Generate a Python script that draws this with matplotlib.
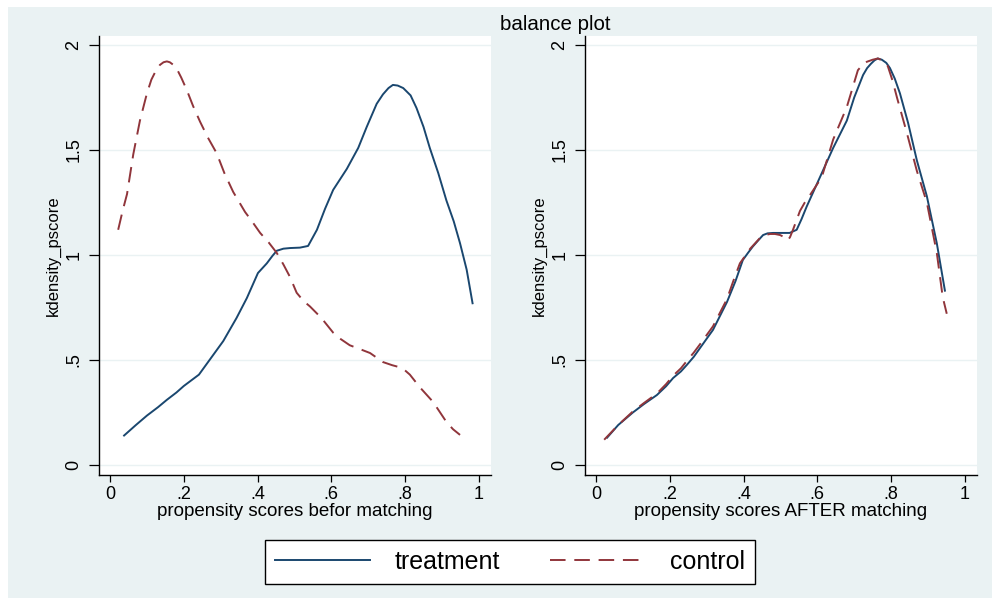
import matplotlib
matplotlib.use("Agg")
import matplotlib.pyplot as plt
from matplotlib.patches import Rectangle

plt.rcParams["font.family"] = ["Liberation Sans", "DejaVu Sans"]

# ── data ──────────────────────────────────────────────────────────────────────
treat_before_x = [0.038, 0.07, 0.10, 0.13, 0.154, 0.18, 0.20, 0.222, 0.241, 0.274, 0.307,
                  0.343, 0.371, 0.401, 0.425, 0.44, 0.452, 0.47, 0.488, 0.515, 0.537,
                  0.561, 0.583, 0.605, 0.642, 0.673, 0.696, 0.723, 0.74, 0.755, 0.767,
                  0.78, 0.795, 0.815, 0.831, 0.85, 0.867, 0.89, 0.912, 0.932, 0.949, 0.967,
                  0.983]
treat_before_y = [0.14, 0.19, 0.235, 0.275, 0.31, 0.345, 0.376, 0.405, 0.43, 0.51, 0.59,
                  0.70, 0.795, 0.914, 0.96, 0.995, 1.02, 1.03, 1.033, 1.035, 1.043,
                  1.12, 1.22, 1.31, 1.41, 1.51, 1.61, 1.72, 1.765, 1.795, 1.81,
                  1.807, 1.795, 1.76, 1.70, 1.61, 1.51, 1.39, 1.26, 1.16, 1.056, 0.93,
                  0.77]

ctrl_before_x = [0.022, 0.034, 0.046, 0.063, 0.081, 0.10, 0.112, 0.122, 0.135, 0.145, 0.154,
                 0.162, 0.172, 0.18, 0.193, 0.208, 0.225, 0.244, 0.265, 0.289, 0.31, 0.334,
                 0.366, 0.385, 0.407, 0.43, 0.452, 0.47, 0.488, 0.506, 0.525, 0.542, 0.573,
                 0.605, 0.625, 0.65, 0.68, 0.705, 0.74, 0.765, 0.786, 0.8, 0.813, 0.84,
                 0.876, 0.912, 0.93, 0.949]
ctrl_before_y = [1.12, 1.21, 1.29, 1.48, 1.64, 1.77, 1.835, 1.87, 1.905, 1.918, 1.922,
                 1.918, 1.905, 1.89, 1.845, 1.786, 1.71, 1.635, 1.56, 1.485, 1.39, 1.30,
                 1.205, 1.16, 1.105, 1.06, 1.01, 0.955, 0.895, 0.82, 0.78, 0.755, 0.70,
                 0.63, 0.60, 0.57, 0.55, 0.533, 0.49, 0.475, 0.465, 0.45, 0.43, 0.37,
                 0.30, 0.205, 0.17, 0.143]

treat_after_x = [0.03, 0.06, 0.1, 0.13, 0.165, 0.19, 0.209, 0.23, 0.246, 0.265, 0.282,
                 0.317, 0.355, 0.378, 0.398, 0.412, 0.425, 0.44, 0.453, 0.465, 0.48, 0.525,
                 0.544, 0.557, 0.571, 0.607, 0.643, 0.68, 0.70, 0.724, 0.735, 0.745,
                 0.755, 0.764, 0.775, 0.787, 0.797, 0.81, 0.824, 0.846, 0.87, 0.897, 0.924,
                 0.946]
treat_after_y = [0.13, 0.19, 0.25, 0.29, 0.333, 0.375, 0.414, 0.445, 0.476, 0.515, 0.557,
                 0.643, 0.776, 0.875, 0.976, 1.01, 1.04, 1.07, 1.095, 1.103, 1.105, 1.105,
                 1.12, 1.17, 1.23, 1.37, 1.51, 1.64, 1.75, 1.857, 1.89, 1.91,
                 1.927, 1.936, 1.93, 1.915, 1.89, 1.84, 1.77, 1.63, 1.45, 1.28, 1.056,
                 0.83]

ctrl_after_x = [0.022, 0.06, 0.1, 0.13, 0.165, 0.19, 0.209, 0.23, 0.246, 0.265, 0.282,
                0.317, 0.355, 0.372, 0.39, 0.418, 0.444, 0.458, 0.472, 0.485, 0.499, 0.51,
                0.52, 0.526, 0.534, 0.553, 0.566, 0.58, 0.612, 0.643, 0.68, 0.71, 0.722,
                0.734, 0.75, 0.764, 0.778, 0.791, 0.804, 0.816, 0.843, 0.87, 0.897, 0.924,
                0.94, 0.951]
ctrl_after_y = [0.12, 0.19, 0.255, 0.295, 0.34, 0.385, 0.425, 0.46, 0.495, 0.535, 0.575,
                0.66, 0.79, 0.875, 0.96, 1.03, 1.08, 1.095, 1.10, 1.1, 1.095, 1.085,
                1.07, 1.085, 1.12, 1.21, 1.25, 1.285, 1.37, 1.55, 1.705, 1.88, 1.905,
                1.92, 1.93, 1.936, 1.925, 1.90, 1.83, 1.75, 1.58, 1.40, 1.25, 1.01,
                0.80, 0.72]

x_ticks = [0, 0.2, 0.4, 0.6, 0.8, 1]
x_ticklabels = ["0", ".2", ".4", ".6", ".8", "1"]
y_ticks = [0, 0.5, 1, 1.5, 2]
y_ticklabels = ["0", ".5", "1", "1.5", "2"]

NAVY = "#1a476f"
MAROON = "#90353b"
BG = "#eaf2f3"
W, H = 1001, 598

fig = plt.figure(figsize=(W / 100, H / 100), dpi=100, facecolor="white")
fig.patches.append(Rectangle((8 / W, 0), 984 / W, 591 / H, transform=fig.transFigure,
                             facecolor=BG, edgecolor="none", zorder=-10))

panels = [
    (99, treat_before_x, treat_before_y, ctrl_before_x, ctrl_before_y,
     "propensity scores befor matching"),
    (585, treat_after_x, treat_after_y, ctrl_after_x, ctrl_after_y,
     "propensity scores AFTER matching"),
]
axes = []
for left, tx, ty, cx, cy, xlab in panels:
    ax = fig.add_axes([left / W, (H - 475) / H, 392 / W, 439 / H])
    ax.set_facecolor("white")
    for y in y_ticks:
        ax.axhline(y, color=BG, lw=1.0, zorder=0)
    ax.plot(tx, ty, color=NAVY, lw=1.4, label="treatment")
    ax.plot(cx, cy, color=MAROON, lw=1.4, dashes=(8, 4.5), label="control")
    ax.set_xlim(-0.030, 1.033)
    ax.set_ylim(-0.048, 2.043)
    ax.set_xticks(x_ticks)
    ax.set_xticklabels(x_ticklabels)
    ax.set_yticks(y_ticks)
    ax.set_yticklabels(y_ticklabels, rotation=90, va="center")
    ax.tick_params(axis="x", direction="out", length=5, width=0.9, pad=3, labelsize=13)
    ax.tick_params(axis="y", direction="out", length=7, width=0.9, pad=5, labelsize=13)
    for side in ("top", "right"):
        ax.spines[side].set_visible(False)
    for side in ("left", "bottom"):
        ax.spines[side].set_linewidth(1.0)
    ax.set_xlabel(xlab, fontsize=13.5, labelpad=0)
    ax.set_ylabel("kdensity_pscore", fontsize=12, labelpad=3)
    axes.append(ax)

fig.text(555 / W, 1 - 25 / H, "balance plot", ha="center", va="center", fontsize=14.8)

handles, labels = axes[0].get_legend_handles_labels()
leg = fig.legend(handles, labels, loc="center", bbox_to_anchor=(510 / W, 36 / H),
                 ncol=2, fontsize=18, frameon=True, fancybox=False, framealpha=1,
                 edgecolor="black", handlelength=3.8, handletextpad=1.0,
                 columnspacing=2.0, borderpad=0.4)
leg.get_frame().set_linewidth(1.0)

fig.savefig("out.png", dpi=100, facecolor="white")
